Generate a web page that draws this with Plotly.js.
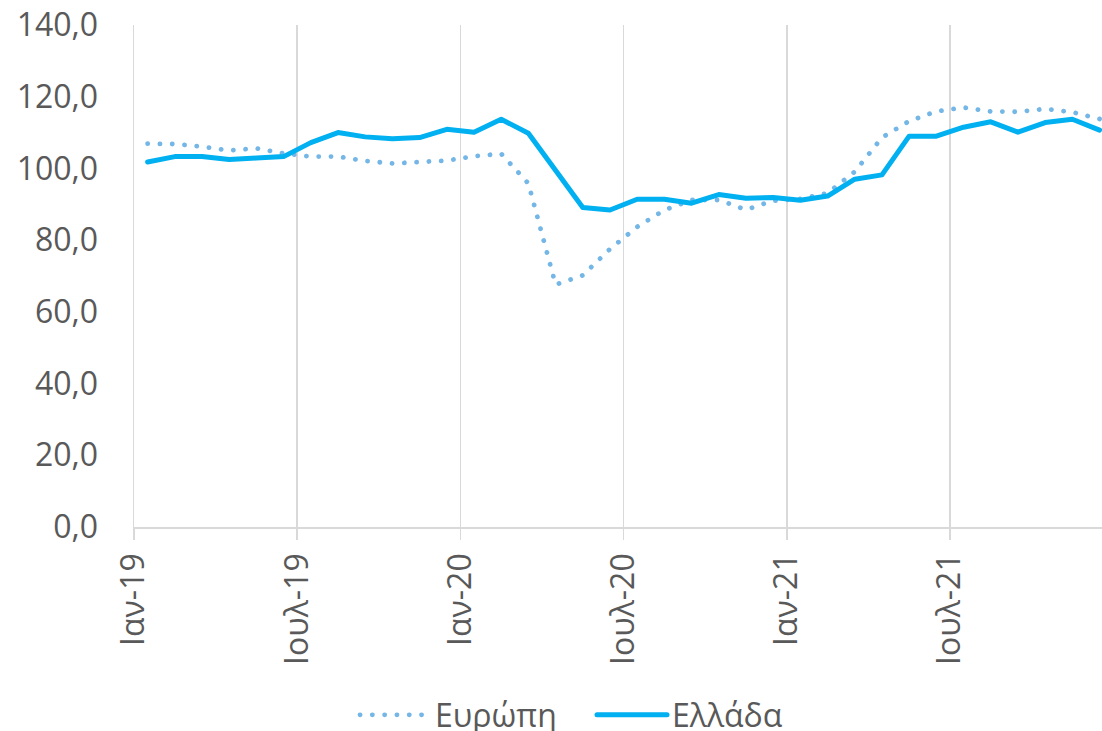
<!DOCTYPE html>
<html>
<head>
<meta charset="utf-8">
<script src="https://cdn.plot.ly/plotly-3.0.1.min.js"></script>
<style>
html,body{margin:0;padding:0;background:#fff;}
.js-line{stroke-linecap:round !important;stroke-linejoin:round !important;}
</style>
</head>
<body>
<div id="chart" style="width:1102px;height:731px;"></div>
<script>
// Months Jan-19 .. Dec-21 (category index)
const months = ["Ιαν-19","Φεβ-19","Μαρ-19","Απρ-19","Μαϊ-19","Ιουν-19","Ιουλ-19","Αυγ-19","Σεπ-19","Οκτ-19","Νοε-19","Δεκ-19",
                "Ιαν-20","Φεβ-20","Μαρ-20","Απρ-20","Μαϊ-20","Ιουν-20","Ιουλ-20","Αυγ-20","Σεπ-20","Οκτ-20","Νοε-20","Δεκ-20",
                "Ιαν-21","Φεβ-21","Μαρ-21","Απρ-21","Μαϊ-21","Ιουν-21","Ιουλ-21","Αυγ-21","Σεπ-21","Οκτ-21","Νοε-21","Δεκ-21"];
const europe = [106.9,106.8,106.1,105.0,105.6,104.2,103.3,103.3,102.1,101.4,101.8,102.2,
                103.4,104.1,95.8,67.6,70.2,77.5,83.7,88.4,91.2,91.2,88.5,91.0,
                91.5,93.1,99.1,108.6,113.2,115.9,117.0,115.9,115.8,116.6,115.7,113.8];
const greece = [101.8,103.3,103.3,102.5,102.9,103.3,107.2,110.0,108.8,108.3,108.6,110.9,
                110.1,113.7,109.8,99.6,89.1,88.4,91.4,91.4,90.3,92.7,91.7,91.9,
                91.1,92.3,97.0,98.2,109.0,109.0,111.5,113.0,110.1,112.8,113.7,110.7];
const tickLabels = ["Ιαν-19","Ιουλ-19","Ιαν-20","Ιουλ-20","Ιαν-21","Ιουλ-21"];
const tickIdx = [0,6,12,18,24,30];

const xs = months.map((m,i)=>i);
const FONT = "Open Sans, Noto Sans, sans-serif";
const GRAY = "#595959";
const GRID = "#d9d9d9";

const traces = [
  {x: xs, y: europe, name: "Ευρώπη", type: "scatter", mode: "lines",
   line: {color: "#74b6e6", width: 4.8, dash: "0.1px,12.2px"}, text: months, hoverinfo: "text+y"},
  {x: xs, y: greece, name: "Ελλάδα", type: "scatter", mode: "lines",
   line: {color: "#00b0f0", width: 5}, text: months, hoverinfo: "text+y"}
];

const layout = {
  width: 1102, height: 731,
  margin: {l: 134, r: 0, t: 25, b: 204, autoexpand: false},
  paper_bgcolor: "#fff", plot_bgcolor: "#fff",
  separators: ",.",
  font: {family: FONT, size: 32, color: GRAY},
  showlegend: true,
  legend: {orientation: "h", x: (355-134)/968, xanchor: "left", y: -0.3745, yanchor: "middle",
           font: {family: FONT, size: 32, color: GRAY}, itemwidth: 70,
           entrywidth: 152, entrywidthmode: "pixels", traceorder: "normal"},
  xaxis: {
    range: [-0.5, 35.09], fixedrange: true, automargin: false,
    tickmode: "array", tickvals: tickIdx.map(i=>i-0.5), ticktext: tickLabels,
    tickangle: -90, ticks: "outside", ticklen: 11, tickcolor: GRID, tickwidth: 1.5,
    showgrid: true, gridcolor: GRID, gridwidth: 1.5,
    showline: true, linecolor: GRID, linewidth: 1.5,
    zeroline: false, ticklabelstandoff: 1,
    tickfont: {family: FONT, size: 32, color: GRAY}
  },
  yaxis: {
    range: [0, 140], dtick: 20, tick0: 0, tickformat: ".1f", automargin: false,
    showgrid: false, zeroline: false, showline: true, linecolor: GRID, linewidth: 1.5,
    ticks: "", ticklabelstandoff: 28,
    tickfont: {family: FONT, size: 32, color: GRAY}
  }
};

Plotly.newPlot("chart", traces, layout, {displayModeBar: false, staticPlot: true});
</script>
</body>
</html>
